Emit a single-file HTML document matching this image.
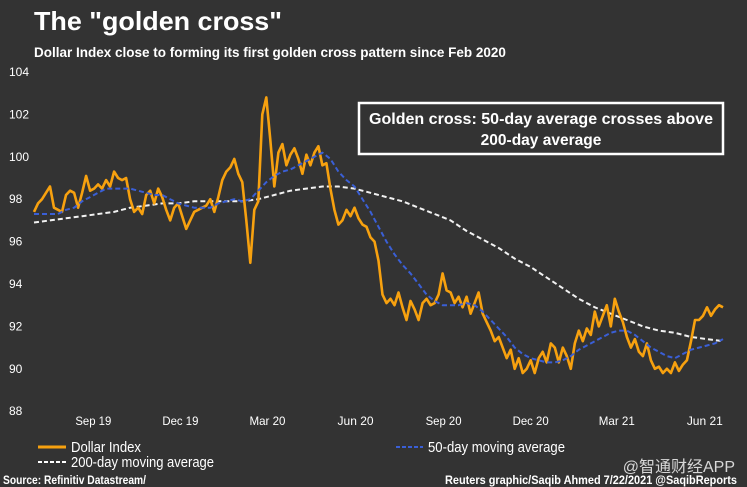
<!DOCTYPE html>
<html><head><meta charset="utf-8">
<style>
html,body{margin:0;padding:0;background:#333333;}
svg{display:block;font-family:"Liberation Sans","Noto Sans CJK SC",sans-serif;}
</style></head>
<body>
<svg id="chart" width="747" height="487" viewBox="0 0 747 487" xmlns="http://www.w3.org/2000/svg">
<rect width="747" height="487" fill="#333333"/>
<text x="34" y="30" fill="#fff" font-size="26" font-weight="bold" textLength="248" lengthAdjust="spacingAndGlyphs">The "golden cross"</text>
<text x="34" y="57" fill="#fff" font-size="13.5" font-weight="bold">Dollar Index close to forming its first golden cross pattern since Feb 2020</text>
<g id="yaxis"></g>
<g id="xaxis"></g>
<g id="series"></g>
<rect x="359" y="103" width="364" height="51" fill="none" stroke="#fff" stroke-width="2.5"/>
<text x="541" y="124" fill="#fff" font-size="15.5" font-weight="bold" text-anchor="middle" textLength="344" lengthAdjust="spacingAndGlyphs">Golden cross: 50-day average crosses above</text>
<text x="541" y="145" fill="#fff" font-size="15.5" font-weight="bold" text-anchor="middle">200-day average</text>
<g>
<line x1="38" y1="447" x2="66" y2="447" stroke="#f7a10f" stroke-width="3"/>
<text x="71" y="452" fill="#fff" font-size="15" textLength="70" lengthAdjust="spacingAndGlyphs">Dollar Index</text>
<line x1="396" y1="447" x2="423" y2="447" stroke="#3a5fd6" stroke-width="2" stroke-dasharray="4,2"/>
<text x="428" y="452" fill="#fff" font-size="15" textLength="137" lengthAdjust="spacingAndGlyphs">50-day moving average</text>
<line x1="38" y1="462" x2="66" y2="462" stroke="#fff" stroke-width="2" stroke-dasharray="4,2"/>
<text x="71" y="467" fill="#fff" font-size="15" textLength="143" lengthAdjust="spacingAndGlyphs">200-day moving average</text>
</g>
<text x="735" y="472" fill="#d8d8d8" font-size="16" text-anchor="end">@智通财经APP</text>
<text x="3" y="484" fill="#fff" font-size="12" font-weight="bold" textLength="143" lengthAdjust="spacingAndGlyphs">Source: Refinitiv Datastream/</text>
<text x="445" y="484" fill="#fff" font-size="12" font-weight="bold" textLength="292" lengthAdjust="spacingAndGlyphs">Reuters graphic/Saqib Ahmed 7/22/2021 @SaqibReports</text>
</svg>
<script>
const yTicks=[104,102,100,98,96,94,92,90,88];
const xTickLabels=["Sep 19","Dec 19","Mar 20","Jun 20","Sep 20","Dec 20","Mar 21","Jun 21"];
const xTickDays=[62,153,244,336,428,519,609,701];
const dollarIndex=[97.4,97.8,98.0,98.3,98.6,97.6,97.5,97.4,98.2,98.4,98.3,97.6,98.3,99.1,98.4,98.5,98.7,98.5,98.9,98.6,99.3,99.0,98.9,99.0,98.0,97.4,97.6,97.3,98.2,98.4,97.8,98.5,98.1,97.5,97.0,97.6,97.8,97.2,96.6,97.0,97.4,97.5,97.6,97.7,98.0,97.4,98.1,98.9,99.3,99.5,99.9,99.2,98.8,97.0,95.0,97.5,97.9,102.0,102.8,100.8,98.6,100.2,100.6,99.6,100.1,100.4,99.9,99.2,100.1,99.6,100.2,100.5,99.6,99.7,98.5,97.5,96.8,97.0,97.5,97.2,97.6,97.1,96.8,96.7,96.2,96.0,95.1,93.5,93.1,93.3,93.0,93.6,92.9,92.3,93.2,92.8,92.3,93.1,93.3,93.0,93.1,93.5,94.5,93.7,93.6,93.1,93.4,92.9,93.4,92.6,93.1,93.6,92.6,92.2,91.8,91.3,91.5,91.0,90.5,90.9,90.0,90.5,89.8,90.0,90.4,89.8,90.5,90.8,90.3,91.2,91.0,90.3,91.0,90.6,90.0,91.2,91.8,91.3,91.9,91.6,92.7,92.0,92.5,93.0,92.0,93.3,92.7,92.2,91.5,91.0,91.4,90.8,90.6,91.2,90.4,90.0,90.1,89.8,90.0,89.8,90.3,89.9,90.2,90.4,91.3,92.3,92.3,92.5,92.9,92.5,92.8,93.0,92.9];
const ma50=[97.3,97.3,97.3,97.3,97.5,97.6,97.9,98.1,98.3,98.5,98.5,98.5,98.5,98.4,98.3,98.2,98.2,98.0,97.8,97.7,97.6,97.6,97.6,97.8,97.9,98.0,97.9,98.0,98.4,98.8,99.1,99.3,99.4,99.6,99.8,100.0,100.2,99.9,99.3,98.9,98.6,98.0,97.4,96.7,96.0,95.4,94.9,94.5,94.0,93.5,93.2,93.0,93.0,93.0,93.1,93.0,92.7,92.3,91.9,91.5,91.0,90.7,90.5,90.4,90.3,90.3,90.4,90.6,90.9,91.1,91.3,91.5,91.7,91.8,91.8,91.6,91.3,91.0,90.8,90.6,90.5,90.7,90.9,91.0,91.1,91.2,91.4];
const ma200=[96.9,97.0,97.1,97.2,97.3,97.4,97.6,97.7,97.8,97.8,97.9,97.9,97.9,97.9,98.0,98.2,98.4,98.5,98.6,98.6,98.5,98.3,98.1,97.9,97.6,97.3,97.0,96.5,96.1,95.7,95.2,94.8,94.3,93.8,93.3,92.9,92.6,92.3,92.0,91.8,91.7,91.5,91.4,91.3];
const TOTAL_DAYS=720;
const X0=34,X1=723;
function xDay(d){return X0+(X1-X0)*d/TOTAL_DAYS;}
function xFrac(i,n){return X0+(X1-X0)*i/(n-1);}
function yVal(v){return 72+(104-v)*21.2;}
const NS="http://www.w3.org/2000/svg";
const ya=document.getElementById('yaxis'),xa=document.getElementById('xaxis'),sg=document.getElementById('series');
yTicks.forEach(v=>{
  const t=document.createElementNS(NS,'text');
  t.setAttribute('x',9);t.setAttribute('y',yVal(v)+4);t.setAttribute('fill','#fff');t.setAttribute('font-size','12');
  
  
  t.textContent=v;ya.appendChild(t);
});
xTickLabels.forEach((lab,i)=>{
  const t=document.createElementNS(NS,'text');
  t.setAttribute('x',xDay(xTickDays[i]));t.setAttribute('y',425);t.setAttribute('fill','#fff');t.setAttribute('font-size','12');
  t.setAttribute('text-anchor','middle');t.setAttribute('textLength','36');t.setAttribute('lengthAdjust','spacingAndGlyphs');
  
  
  t.textContent=lab;xa.appendChild(t);
});
function line(arr,color,w,dash,name){
  const p=document.createElementNS(NS,'polyline');
  p.setAttribute('points',arr.map((v,i)=>xFrac(i,arr.length).toFixed(1)+','+yVal(v).toFixed(1)).join(' '));
  p.setAttribute('fill','none');p.setAttribute('stroke',color);p.setAttribute('stroke-width',w);
  p.setAttribute('stroke-linejoin','round');
  if(dash)p.setAttribute('stroke-dasharray',dash);
  
  
  sg.appendChild(p);
}
line(ma200,'#f2f2f2',2,'5,3','series-200-day-ma');
line(dollarIndex,'#f7a10f',2.6,null,'series-dollar-index');
line(ma50,'#3a5fd6',2,'5,3','series-50-day-ma');
</script>
</body></html>
